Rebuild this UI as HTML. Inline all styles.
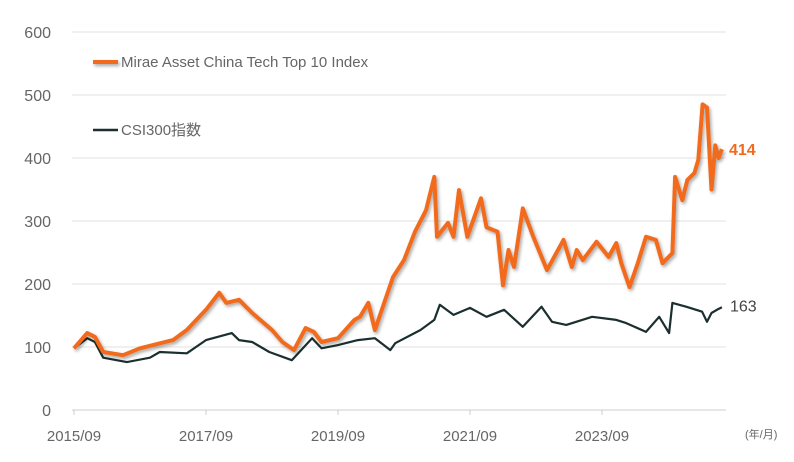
<!DOCTYPE html>
<html><head><meta charset="utf-8"><style>
body{margin:0;background:#fff;width:794px;height:457px;overflow:hidden}
svg text{font-family:"Liberation Sans","Noto Sans CJK JP",sans-serif;fill:#666}
</style></head><body>
<svg id="chart" width="794" height="457" xmlns="http://www.w3.org/2000/svg">
<defs><filter id="sh" filterUnits="userSpaceOnUse" x="0" y="0" width="794" height="457"><feDropShadow dx="1.5" dy="2" stdDeviation="1.5" flood-color="#000" flood-opacity="0.35"/></filter></defs>
<g id="grid"></g>
<g id="yt"></g>
<g id="xt"></g>
<g id="series"></g>
<g>
<rect x="93" y="60" width="25" height="4" fill="#f26a1b" filter="url(#sh)"/>
<text x="121" y="67" font-size="15">Mirae Asset China Tech Top 10 Index</text>
<line x1="93" y1="130" x2="118" y2="130" stroke="#1b2f2f" stroke-width="2.5"/>
<text x="121" y="135" font-size="15">CSI300指数</text>
</g>
<text x="745" y="438" font-size="11">(年/月)</text>
</svg>
<script>
const yTicks=[0,100,200,300,400,500,600];
const xTickLabels=["2015/09","2017/09","2019/09","2021/09","2023/09"];
const xTickMonths=[0,24,48,72,96];
const miraeMonths=[0,2.4,3.8,5.3,8.9,12,18,20.5,24,26.4,27.7,30,32.4,36,37.9,40,42.1,43.6,45,48,51,52,53.5,54.7,58,60,62,64,65.5,66,68,69,70,71.5,74,75,77,78,79,80,81.6,83.5,86,89,90.5,91.4,92.5,95,97.2,98.6,99.5,101,102.5,104,105.8,107,108.8,109.3,110.6,111.5,112.8,113.5,114.3,115.1,115.9,116.6,117.2,117.8];
const miraeValues=[98,122,116,92,87,98,111,127,159,186,170,175,154,127,108,95,130,124,108,114,143,148,170,127,211,238,283,317,370,275,297,275,349,275,336,290,283,198,254,227,320,275,222,270,227,254,238,267,243,265,233,195,233,275,270,233,249,370,333,365,376,397,485,480,350,420,400,414];
const csiMonths=[0,2.4,3.8,5.3,9.6,13.8,15.6,20.5,24,28.7,30,32.4,35.5,39.6,43.3,45,48,51.6,54.7,57.5,58.4,63,65.5,66.5,69,72,75,78.2,81.6,85,86.9,89.5,94.2,98.6,100.4,104,106.4,108.2,108.8,111.3,114.2,115.1,115.9,117.1,117.8];
const csiValues=[98,114,108,83,76,83,92,90,111,122,111,108,92,79,114,98,103,111,114,95,106,127,143,167,151,162,148,159,132,164,140,135,148,143,138,124,148,122,170,164,156,140,154,160,163];

const NS="http://www.w3.org/2000/svg";
const X0=74,PXM=5.5,Y0=410,PXV=0.63,XR=726;
const xs=m=>X0+m*PXM, ys=v=>Y0-v*PXV;
function mk(t,a,p){const e=document.createElementNS(NS,t);for(const k in a)e.setAttribute(k,a[k]);p.appendChild(e);return e;}
const grid=document.getElementById('grid'),yt=document.getElementById('yt'),xt=document.getElementById('xt'),ser=document.getElementById('series');
yTicks.forEach(v=>{
 const l=mk('line',{x1:72,x2:XR,y1:ys(v),y2:ys(v),stroke:v===0?'#ccc':'#e2e2e2','stroke-width':1},grid);
 
 
 const t=mk('text',{x:51,y:ys(v)+6,'text-anchor':'end','font-size':16},yt);t.textContent=v;
 
 
});
xTickMonths.forEach((m,i)=>{
 const l=mk('line',{x1:xs(m),x2:xs(m),y1:Y0,y2:Y0+5,stroke:'#ccc'},xt);
 
 
 const t=mk('text',{x:xs(m),y:441,'text-anchor':'middle','font-size':15},xt);t.textContent=xTickLabels[i];
 
 
});
function path(ms,vs){return ms.map((m,i)=>(i?'L':'M')+xs(m).toFixed(1)+' '+ys(vs[i]).toFixed(1)).join(' ');}
const pc=mk('path',{d:path(csiMonths,csiValues),fill:'none',stroke:'#1b2f2f','stroke-width':2.2,'stroke-linejoin':'round'},ser);


const pm=mk('path',{d:path(miraeMonths,miraeValues),fill:'none',stroke:'#f26a1b','stroke-width':4,'stroke-linejoin':'round',filter:'url(#sh)'},ser);


const lm=miraeValues[miraeValues.length-1],lc=csiValues[csiValues.length-1];
const t1=mk('text',{x:729,y:ys(lm)+6,'font-size':16,'font-weight':'bold',style:'fill:#f26a1b'},ser);t1.textContent=lm;


const t2=mk('text',{x:730,y:ys(lc)+4,'font-size':16,style:'fill:#444'},ser);t2.textContent=lc;


</script>
</body></html>
